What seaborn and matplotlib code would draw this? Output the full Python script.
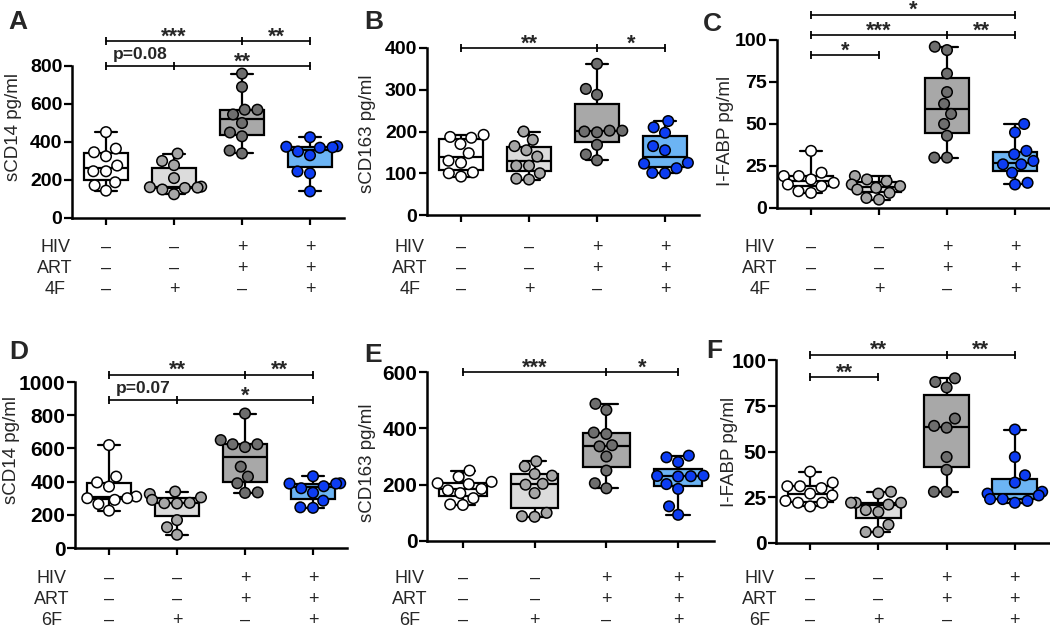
import warnings
warnings.filterwarnings("ignore")
import numpy as np
import pandas as pd
import matplotlib
matplotlib.use("Agg")
import matplotlib.pyplot as plt
import matplotlib.transforms as mtransforms
import seaborn as sns

sns.set_theme(style="ticks")
plt.rcParams['font.family'] = ['Liberation Sans', 'DejaVu Sans']

W, H = 1050, 628

groups = ["Ctrl", "Pep", "HIV+ART", "HIV+ART+Pep"]
box_colors = ["#ffffff", "#dcdcdc", "#a8a8a8", "#6cb4f4"]
point_colors = ["#ffffff", "#a6a6a6", "#6e6e6e", "#0d3df2"]

# ---- data ----
sCD14_4F = [[452, 365, 346, 325, 276, 246, 246, 188, 172, 144],
            [339, 300, 278, 210, 165, 162, 158, 150, 160, 125],
            [760, 690, 570, 570, 545, 500, 450, 430, 355, 340],
            [425, 375, 378, 370, 372, 350, 330, 245, 235, 140]]
sCD163_4F = [[192, 187, 185, 170, 148, 130, 125, 102, 100, 92],
             [200, 180, 165, 155, 140, 118, 118, 100, 87, 85],
             [362, 302, 288, 202, 202, 200, 198, 168, 145, 131],
             [225, 210, 197, 165, 155, 125, 123, 112, 101, 100]]
IFABP_4F = [[34, 21, 19, 19, 17, 15, 14, 13, 10, 9],
            [19, 17, 16, 14, 13, 12, 11, 9, 6, 5],
            [96, 94, 80, 69, 62, 56, 50, 43, 30, 30],
            [50, 45, 34, 32, 28, 26, 26, 21, 15, 14]]
sCD14_6F = [[620, 430, 395, 370, 310, 300, 300, 290, 265, 225],
            [340, 325, 305, 290, 272, 270, 268, 168, 125, 80],
            [810, 650, 625, 625, 608, 490, 430, 390, 335, 332],
            [432, 390, 388, 388, 372, 360, 333, 285, 245, 242]]
sCD163_6F = [[250, 228, 210, 205, 202, 185, 180, 170, 152, 130, 128],
             [283, 265, 238, 232, 203, 200, 170, 100, 88, 86],
             [487, 465, 385, 380, 340, 336, 300, 250, 205, 187],
             [303, 297, 280, 232, 231, 230, 229, 202, 185, 123, 93]]
IFABP_6F = [[39, 33, 31, 31, 30, 27, 26, 23, 22, 22, 20],
            [28, 27, 22, 22, 22, 21, 18, 17, 10, 6, 6],
            [90, 88, 85, 68, 64, 63, 47, 40, 28, 28],
            [62, 47, 37, 33, 28, 27, 26, 24, 24, 23, 22]]

hiv_row = ["–", "–", "+", "+"]
art_row = ["–", "–", "+", "+"]
pep_row = ["–", "+", "–", "+"]

# significance annotations: (y, x0, x1, mid ticks, [(x, label), ...])
sig_A = [(930, 0, 3, [2], [(1, "***"), (2.5, "**")]),
         (800, 0, 3, [1], [(0.5, "p=0.08"), (2, "**")])]
sig_B = [(400, 0, 3, [2], [(1, "**"), (2.5, "*")])]
sig_C = [(115, 0, 3, [], [(1.5, "*")]),
         (103, 0, 3, [2], [(1, "***"), (2.5, "**")]),
         (91, 0, 1, [], [(0.5, "*")])]
sig_D = [(1045, 0, 3, [2], [(1, "**"), (2.5, "**")]),
         (890, 0, 3, [1], [(0.5, "p=0.07"), (2, "*")])]
sig_E = [(600, 0, 3, [2], [(1, "***"), (2.5, "*")])]
sig_F = [(103, 0, 3, [2], [(1, "**"), (2.5, "**")]),
         (90.5, 0, 1, [], [(0.5, "**")])]

panels = [
    dict(letter="A", data=sCD14_4F, ylabel="sCD14 pg/ml", ticks=[0, 200, 400, 600, 800],
         pep="4F", sig=sig_A, rect=(72, 66, 344, 218), lab_xy=(18, 22), ylab=(13, 127),
         tab_x=55, tab_y=(252, 273, 294), fs=14),
    dict(letter="B", data=sCD163_4F, ylabel="sCD163 pg/ml", ticks=[0, 100, 200, 300, 400],
         pep="4F", sig=sig_B, rect=(427, 48, 699, 215), lab_xy=(374, 22), ylab=(367, 134),
         tab_x=410, tab_y=(252, 273, 294), fs=14),
    dict(letter="C", data=IFABP_4F, ylabel="I-FABP pg/ml", ticks=[0, 25, 50, 75, 100],
         pep="4F", sig=sig_C, rect=(777, 40, 1049, 208), lab_xy=(712, 24), ylab=(725, 131),
         tab_x=760, tab_y=(252, 273, 294), fs=14),
    dict(letter="D", data=sCD14_6F, ylabel="sCD14 pg/ml", ticks=[0, 200, 400, 600, 800, 1000],
         pep="6F", sig=sig_D, rect=(75, 382, 347, 548), lab_xy=(19, 352), ylab=(12, 450),
         tab_x=52, tab_y=(583, 604, 625), fs=15),
    dict(letter="E", data=sCD163_6F, ylabel="sCD163 pg/ml", ticks=[0, 200, 400, 600],
         pep="6F", sig=sig_E, rect=(427, 372, 714, 541), lab_xy=(373, 355), ylab=(367, 463),
         tab_x=410, tab_y=(583, 604, 625), fs=15),
    dict(letter="F", data=IFABP_6F, ylabel="I-FABP pg/ml", ticks=[0, 25, 50, 75, 100],
         pep="6F", sig=sig_F, rect=(776, 360, 1049, 543), lab_xy=(714, 351), ylab=(730, 452),
         tab_x=760, tab_y=(583, 604, 625), fs=15),
]

fig = plt.figure(figsize=(W / 100, H / 100), dpi=100)


def to_fig(px, py):
    return px / W, 1 - py / H


for p in panels:
    l, t, r, b = p["rect"]
    ax = fig.add_axes([l / W, 1 - b / H, (r - l) / W, (b - t) / H])
    rows = []
    for g, vals in zip(groups, p["data"]):
        for v in vals:
            rows.append((g, v))
    df = pd.DataFrame(rows, columns=["group", "value"])

    sns.boxplot(data=df, x="group", y="value", hue="group", order=groups, hue_order=groups,
                palette=box_colors, saturation=1, whis=(0, 100), width=0.66,
                linewidth=1.6, linecolor="black", showfliers=False, legend=False,
                dodge=False, ax=ax)
    sns.swarmplot(data=df, x="group", y="value", hue="group", order=groups, hue_order=groups,
                  palette=point_colors, size=7.6, edgecolor="black", linewidth=1.1,
                  legend=False, ax=ax, zorder=3)

    ax.set_xlim(-0.5, 3.5)
    ax.set_ylim(0, p["ticks"][-1])
    ax.set_yticks(p["ticks"])
    ax.set_yticklabels([str(v) for v in p["ticks"]], fontsize=p["fs"], fontweight="bold")
    ax.set_xticks(range(4))
    ax.set_xticklabels([])
    ax.set_xlabel("")
    ax.set_ylabel(p["ylabel"], fontsize=13.5)
    ax.yaxis.label.set_va("center")
    lx = (p["ylab"][0] - l) / (r - l)
    ly = (b - p["ylab"][1]) / (b - t)
    ax.yaxis.set_label_coords(lx, ly)
    for s in ["top", "right"]:
        ax.spines[s].set_visible(False)
    for s in ["left", "bottom"]:
        ax.spines[s].set_linewidth(1.8)
        ax.spines[s].set_color("black")
    ax.tick_params(axis="y", length=6, width=1.6, colors="black", pad=1)
    ax.tick_params(axis="x", length=5, width=1.6, colors="black")
    ax.set_facecolor("none")

    # significance brackets
    for (yy, x0, x1, mids, labels) in p["sig"]:
        ax.plot([x0, x1], [yy, yy], color="black", lw=1.2, clip_on=False, zorder=5)
        xs = [x0] + list(mids) + [x1]
        ax.plot(xs, [yy] * len(xs), ls="none", marker="|", ms=6, mew=1.3,
                color="black", clip_on=False, zorder=5)
        for (xt, txt) in labels:
            off = 5 if txt.startswith("p") else -1
            fs = 12.5 if txt.startswith("p") else 15.5
            ax.annotate(txt, xy=(xt, yy), xytext=(0, off), textcoords="offset points",
                        ha="center", va="baseline", fontsize=fs, fontweight="bold",
                        annotation_clip=False)

    # condition table
    trans = mtransforms.blended_transform_factory(ax.transData, fig.transFigure)
    for name, row, ypx in zip(["HIV", "ART", p["pep"]], [hiv_row, art_row, pep_row], p["tab_y"]):
        fx, fy = to_fig(p["tab_x"], ypx)
        fig.text(fx, fy, name, ha="center", va="baseline", fontsize=13)
        for i, sym in enumerate(row):
            fig.text(i, fy, sym, transform=trans, ha="center", va="baseline", fontsize=13)

    # panel letter
    fx, fy = to_fig(*p["lab_xy"])
    fig.text(fx, fy, p["letter"], ha="center", va="center", fontsize=19, fontweight="bold")

fig.savefig("out.png", dpi=100)
